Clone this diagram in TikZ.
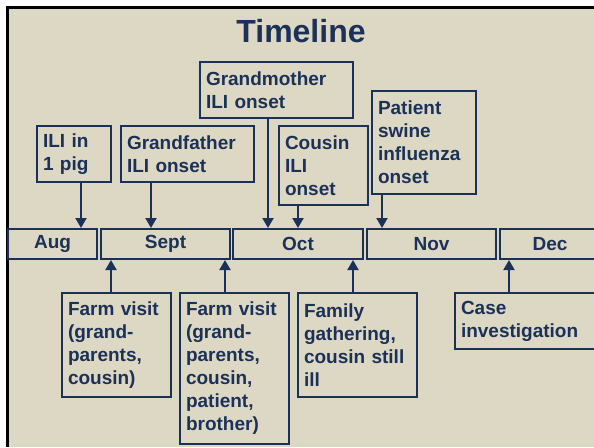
\documentclass[tikz,border=0pt]{standalone}
\usepackage{fontspec}
\setmainfont{Liberation Sans}
\usetikzlibrary{arrows.meta}
\definecolor{navy}{HTML}{1B3157}
\definecolor{sand}{HTML}{DDD8C3}
\tikzset{>={Triangle[width=11pt,length=10pt]}}
\tikzset{
  evt/.style={draw=navy, line width=2pt, text=navy, anchor=north west,
    font=\fontsize{19}{23}\selectfont\bfseries, align=left, inner xsep=6pt, inner ysep=0pt},
  mon/.style={draw=navy, line width=2pt, text=navy, anchor=north west,
    font=\fontsize{19}{23}\selectfont\bfseries, inner sep=0pt, minimum height=30pt},
  link/.style={->, draw=navy, line width=2pt}
}

\begin{document}
\begin{tikzpicture}[x=1pt, y=-1pt]
\clip (0,0) rectangle (594,447);
\fill[sand] (7,7) rectangle (594,447);
\draw[line width=2.5pt] (7.5,447) -- (7.5,7.5) -- (594,7.5);
\node[text=navy, font=\fontsize{32}{36}\selectfont\bfseries, anchor=base] (ttl) at (301,42) {Timeline};
\node[mon, minimum width=89pt] (aug) at (7,228) {Aug};
\node[mon, minimum width=129pt] (sept) at (100,228) {Sept};
\node[mon, minimum width=130pt] (oct) at (232,228) {Oct};
\node[mon, minimum width=129pt] (nov) at (366,228) {Nov};
\node[mon, minimum width=100pt] (dec) at (499,228) {Dec};
\node[evt, text width=62pt, minimum height=56pt] (pig) at (36,125) {ILI in\\1 pig};
\node[evt, text width=121pt, minimum height=56pt] (gfa) at (120,125) {Grandfather\\ILI onset};
\node[evt, text width=141pt, minimum height=56pt] (gmo) at (199,61) {Grandmother\\ILI onset};
\node[evt, text width=77pt, minimum height=79pt] (csn) at (278,125) {Cousin\\ILI\\onset};
\node[evt, text width=92pt, minimum height=103pt] (pat) at (371,90) {Patient\\swine\\influenza\\onset};
\node[evt, text width=97pt, minimum height=104pt] (farmA) at (61,292) {Farm visit\\(grand-\\parents,\\cousin)};
\node[evt, text width=97pt, minimum height=151pt] (farmB) at (179,292) {Farm visit\\(grand-\\parents,\\cousin,\\patient,\\brother)};
\node[evt, text width=107pt, minimum height=104pt] (fam) at (297,292) {Family\\gathering,\\cousin still\\ill};
\node[evt, text width=148pt, minimum height=56pt] (case) at (454,292) {Case\\investigation};
\draw[link] ([xshift=7pt]pig.south) -- ([xshift=7pt]pig.south |- aug.north);
\draw[link] ([xshift=-36.5pt]gfa.south) -- ([xshift=-36.5pt]gfa.south |- sept.north);
\draw[link] ([xshift=-8.5pt]gmo.south) -- ([xshift=-8.5pt]gmo.south |- oct.north);
\draw[link] ([xshift=-25.5pt]csn.south) -- ([xshift=-25.5pt]csn.south |- oct.north);
\draw[link] ([xshift=-42pt]pat.south) -- ([xshift=-42pt]pat.south |- nov.north);
\draw[link] ([xshift=-5.5pt]farmA.north) -- ([xshift=-5.5pt]farmA.north |- sept.south);
\draw[link] ([xshift=-9.5pt]farmB.north) -- ([xshift=-9.5pt]farmB.north |- sept.south);
\draw[link] ([xshift=-4.5pt]fam.north) -- ([xshift=-4.5pt]fam.north |- oct.south);
\draw[link] ([xshift=55pt]case.north west) -- ([xshift=55pt]case.north west |- dec.south);
\end{tikzpicture}
\end{document}
